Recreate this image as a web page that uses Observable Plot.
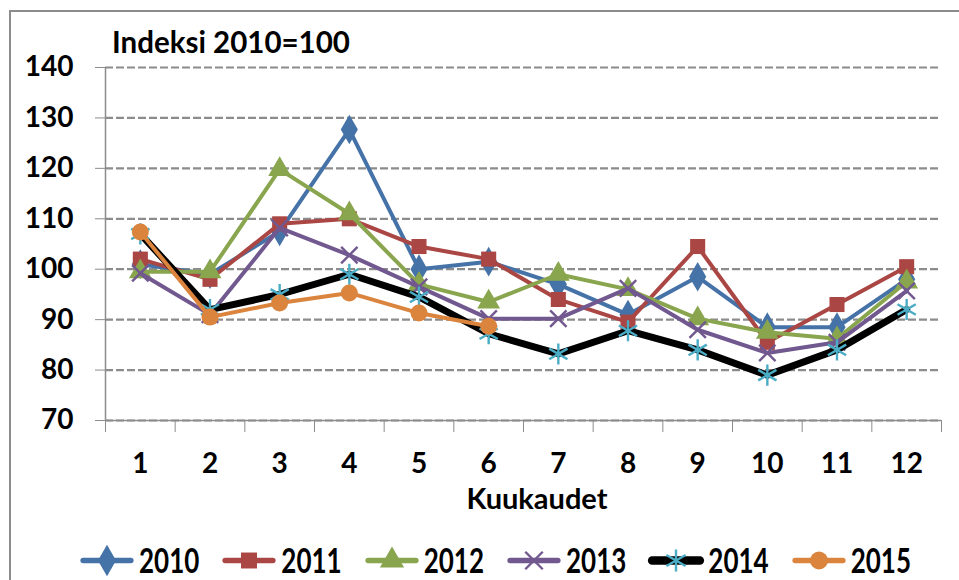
<!DOCTYPE html>
<html><head><meta charset="utf-8">
<script src="https://cdn.jsdelivr.net/npm/d3@7"></script>
<script src="https://cdn.jsdelivr.net/npm/@observablehq/plot@0.6"></script>
<style>
body{margin:0;background:#fff;font-family:Lato,"Open Sans",sans-serif;font-weight:bold;}
#frame{position:absolute;left:9px;top:10px;width:960px;height:580px;border:2px solid #8c8c8c;box-sizing:border-box;}
#title{position:absolute;left:112px;top:27px;font-size:29.5px;line-height:1;font-weight:bold;color:#000;}
#chart{position:absolute;left:0;top:55px;}
#xlabel{position:absolute;left:537px;top:483px;transform:translateX(-50%);font-size:29px;line-height:1;font-weight:bold;}
#legend{position:absolute;left:80px;top:546px;display:flex;align-items:center;font-size:26px;line-height:1;font-weight:bold;}
.item{display:flex;align-items:center;margin-right:23px;}
.item svg{margin-right:6px;}
.item span{display:inline-block;transform:scaleY(1.3);}
</style></head>
<body>
<div id="frame"></div>
<div id="title">Indeksi 2010=100</div>
<div id="chart"></div>
<div id="xlabel">Kuukaudet</div>
<div id="legend"></div>
<script>
const months = [1,2,3,4,5,6,7,8,9,10,11,12];
const years = ["2010","2011","2012","2013","2014","2015"];
const v2010 = [101, 99, 107.5, 127.7, 100, 101.5, 97, 91, 98.5, 88.5, 88.5, 98];
const v2011 = [102, 98, 109, 110, 104.5, 102, 94, 89.5, 104.5, 85.5, 93, 100.5];
const v2012 = [99.5, 99.5, 119.8, 111, 97, 93.5, 99, 96, 90.2, 87.5, 86.2, 97.5];
const v2013 = [99.2, 91, 108.2, 102.8, 96.5, 90.2, 90.2, 96.2, 88, 83.4, 85.5, 95.7];
const v2014 = [107, 92, 95, 99, 94.5, 87.2, 83.2, 87.8, 84, 79, 84, 92];
const v2015 = [107.4, 90.5, 93.3, 95.3, 91.3, 88.7];
const yTicks = [70,80,90,100,110,120,130,140];

const series = [v2010, v2011, v2012, v2013, v2014, v2015];
const lineColors = ["#4572A7","#AA4643","#89A54E","#71588F","#000000","#DB843D"];
const markColors = ["#4572A7","#AA4643","#89A54E","#71588F","#4BACC6","#DB843D"];
const symbols = ["diamond","square","triangle","times","asterisk","circle"];
const filled = [true,true,true,false,false,true];
const lineWidths = [4,4,4,4,7,4];
const radii = [9,8.5,8.5,7.5,10,8.5];

const data = series.map((vals, i) => vals.map((v, j) => ({year: years[i], month: months[j], value: v})));
const bounds = [months[0] - 0.5, ...months.map(m => m + 0.5)];

const marks = [
  Plot.gridY(yTicks, {stroke: "#8c8c8c", strokeOpacity: 1, strokeWidth: 2.2, strokeDasharray: "8,3"}),
  Plot.axisY(yTicks, {tickSize: 10, tickPadding: 22, fontSize: 28, fontWeight: "bold", stroke: "#8c8c8c", label: null, tickFormat: d => d}),
  Plot.axisX(bounds, {tickSize: 12, stroke: "#8c8c8c", text: null, label: null}),
  Plot.axisX(months, {tickSize: 0, tickPadding: 33, fontSize: 28, fontWeight: "bold", label: null, tickFormat: d => d}),
  Plot.ruleX([bounds[0]], {stroke: "#8c8c8c", strokeWidth: 1.5}),
  Plot.ruleY([yTicks[0]], {stroke: "#8c8c8c", strokeWidth: 1.5})
];
data.forEach((d, i) => {
  marks.push(Plot.line(d, {x: "month", y: "value", stroke: lineColors[i], strokeWidth: lineWidths[i], strokeLinejoin: "round"}));
  marks.push(Plot.dot(d, filled[i]
    ? {x: "month", y: "value", symbol: () => symbols[i], r: radii[i], fill: markColors[i], stroke: "none"}
    : {x: "month", y: "value", symbol: () => symbols[i], r: radii[i], stroke: markColors[i], strokeWidth: 2.4, fill: "none"}));
});

const chart = Plot.plot({
  width: 959,
  height: 460,
  marginTop: 12,
  marginBottom: 95,
  marginLeft: 105,
  marginRight: 18,
  style: {fontFamily: "Lato, 'Open Sans', sans-serif", color: "#000", background: "transparent", overflow: "visible"},
  x: {type: "linear", domain: [bounds[0], bounds[bounds.length - 1]]},
  y: {domain: [yTicks[0], yTicks[yTicks.length - 1]]},
  symbol: {type: "identity"},
  marks
});
document.getElementById("chart").appendChild(chart);

// legend
const legend = document.getElementById("legend");
years.forEach((y, i) => {
  const item = document.createElement("div");
  item.className = "item";
  const sw = Plot.plot({
    width: 53, height: 28, margin: 0,
    x: {domain: [0, 1], axis: null}, y: {domain: [0, 1], axis: null},
    symbol: {type: "identity"},
    style: {background: "transparent", overflow: "visible"},
    marks: [
      Plot.line([[0.05, 0.5], [0.95, 0.5]], {stroke: lineColors[i], strokeWidth: lineWidths[i] + 1.5, strokeLinecap: "round"}),
      Plot.dot([[0.5, 0.5]], filled[i]
        ? {symbol: () => symbols[i], r: radii[i] + 0.5, fill: markColors[i]}
        : {symbol: () => symbols[i], r: radii[i] + 0.5, stroke: markColors[i], strokeWidth: 2.4})
    ]
  });
  item.appendChild(sw);
  const t = document.createElement("span");
  t.textContent = y;
  item.appendChild(t);
  legend.appendChild(item);
});
</script>
</body></html>
